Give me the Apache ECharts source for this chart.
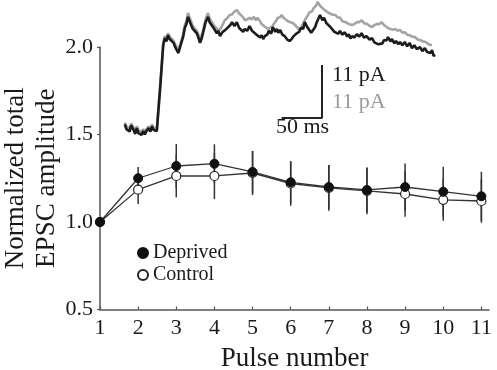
<!DOCTYPE html>
<html>
<head>
<meta charset="utf-8">
<script src="https://cdn.jsdelivr.net/npm/echarts@6/dist/echarts.min.js"></script>
<style>html,body{margin:0;padding:0;background:#fff}#c{width:497px;height:370px}</style>
</head>
<body>
<div id="c"></div>
<script>
// ---- main data ----
var pulses = [1, 2, 3, 4, 5, 6, 7, 8, 9, 10, 11];
var deprived = [1.0, 1.25, 1.32, 1.333, 1.286, 1.227, 1.20, 1.183, 1.20, 1.173, 1.147];
var deprivedErr = [0, 0.064, 0.126, 0.111, 0.12, 0.12, 0.126, 0.127, 0.135, 0.143, 0.14];
var control = [1.0, 1.185, 1.263, 1.263, 1.28, 1.22, 1.195, 1.178, 1.16, 1.127, 1.12];
var controlErr = [0, 0.082, 0.122, 0.132, 0.126, 0.127, 0.131, 0.133, 0.13, 0.12, 0.124];
var yTicks = [0.5, 1.0, 1.5, 2.0];

// ---- inset traces: [time (ms), current (pA)] ----
var traceDeprived = [[1,1.2],[3,0.2],[5,0.6],[7,-0.3],[9,1.0],[12,0],[14,-0.8],[16,0.4],[18,-0.6],[20,-0.4],[22,-1.0],[24,-0.2],[26,-0.9],[28,-0.2],[31,0.4],[33,-0.3],[35,0.8],[37,0.0],[39,0.2],[41,-0.2],[45,8.3],[49,17.6],[51,19.1],[53,18.4],[55,19.7],[57,18.9],[59,18.7],[62,18.1],[64,17.2],[66,17.0],[68,16.0],[69,16.6],[72,18.3],[74,19.4],[76,21.2],[78,22.0],[80,23.5],[82,22.6],[84,22.4],[86,21.0],[88,21.4],[91,20.1],[93,19.2],[95,18.1],[97,19.0],[99,20.3],[102,22.4],[104,22.0],[105,23.5],[107,22.4],[109,22.0],[112,21.2],[114,21.6],[116,20.1],[118,20.6],[120,19.5],[123,20.3],[125,20.1],[128,21.0],[130,21.2],[133,21.8],[135,22.4],[138,21.6],[141,22.4],[144,21.2],[146,21.2],[149,20.4],[151,21.0],[154,20.6],[157,21.6],[160,20.6],[162,20.8],[165,19.9],[167,20.1],[170,19.2],[172,19.7],[174,18.9],[176,19.5],[179,19.8],[181,20.6],[184,20.0],[186,21.4],[189,20.4],[191,21.0],[193,20.2],[195,20.8],[198,19.8],[201,19.5],[204,18.8],[207,18.5],[210,19.0],[212,19.5],[214,19.2],[216,20.1],[219,20.4],[221,21.2],[224,21.0],[226,22.4],[229,21.4],[231,21.2],[234,20.2],[236,20.1],[239,21.4],[241,22.4],[243,22.8],[245,23.9],[248,22.8],[250,23.3],[253,22.2],[255,22.4],[258,21.4],[260,21.2],[263,20.4],[265,20.8],[268,20.0],[270,20.6],[273,19.8],[276,20.3],[279,19.4],[281,19.9],[283,19.0],[285,19.5],[288,19.2],[291,19.9],[294,19.4],[297,20.1],[300,19.2],[303,19.5],[307,18.8],[310,19.1],[313,18.2],[315,18.5],[318,17.8],[320,18.1],[323,18.0],[325,18.7],[328,18.6],[330,19.3],[333,18.4],[335,18.9],[338,18.0],[340,18.5],[343,17.8],[345,18.3],[348,17.6],[351,18.3],[354,17.4],[357,18.1],[360,17.0],[363,17.6],[366,16.8],[370,17.2],[373,16.4],[376,17.0],[379,16.2],[381,16.6],[383,16.0],[385,16.6],[387,15.4],[389,15.6]];
var traceControl = [[1,1.6],[3,0.8],[5,1.0],[7,0.3],[9,1.4],[12,0.4],[14,-0.2],[16,0.8],[18,0.0],[20,0],[22,-0.4],[24,0.2],[26,-0.3],[28,0.2],[31,0.8],[33,0.2],[35,1.2],[37,0.5],[39,0.6],[41,0.2],[45,8.7],[49,18.0],[51,19.5],[53,18.9],[55,20.1],[57,19.4],[59,19.1],[62,18.5],[64,17.8],[66,17.4],[68,16.6],[69,17.0],[72,18.7],[74,19.9],[76,21.8],[78,22.6],[80,24.3],[82,23.4],[84,23.0],[86,21.6],[88,22.0],[91,20.6],[93,19.8],[95,18.6],[97,19.6],[99,20.8],[102,23.0],[104,23.4],[105,24.3],[107,23.2],[109,22.6],[112,21.8],[114,22.0],[116,21.0],[118,21.4],[120,20.8],[123,21.8],[126,22.8],[129,23.2],[132,23.9],[135,24.0],[138,24.6],[141,24.9],[144,24.2],[146,23.9],[149,23.4],[151,22.8],[154,23.0],[157,23.3],[160,23.0],[162,23.5],[165,22.8],[167,23.3],[170,22.6],[172,22.0],[175,21.6],[177,21.2],[180,21.0],[182,20.8],[185,21.4],[187,22.0],[190,22.6],[192,23.3],[195,23.4],[197,23.9],[200,23.2],[202,23.3],[205,22.6],[207,22.4],[211,22.2],[214,21.8],[217,21.2],[220,20.8],[223,21.8],[226,22.8],[229,23.6],[232,24.5],[235,24.6],[237,25.3],[240,25.8],[242,26.6],[245,25.8],[247,25.7],[250,25.0],[252,25.1],[255,24.4],[257,24.3],[260,24.0],[264,23.9],[267,23.4],[270,23.3],[273,22.6],[277,22.4],[281,22.0],[285,21.8],[288,22.0],[291,22.4],[294,22.4],[297,22.8],[300,22.2],[304,22.0],[307,21.6],[310,21.4],[313,21.8],[316,22.0],[319,22.0],[322,22.4],[325,21.8],[327,21.8],[330,21.2],[332,21.2],[336,20.8],[339,21.0],[342,20.6],[345,20.8],[348,20.2],[351,20.3],[354,19.8],[357,19.7],[360,19.4],[364,19.3],[367,18.8],[370,18.7],[374,18.4],[377,18.3],[381,17.8],[385,17.6]];
var scaleBar = [[197,2.5],[247.5,2.5],[247.5,13.5]];

var FONT = 'Liberation Serif';
var TXT = '#1a1a1a';

function errData(vals, errs) {
  return pulses.map(function (p, i) { return [p, vals[i] - errs[i], vals[i] + errs[i]]; });
}
function errRender(params, api) {
  var x = api.value(0);
  var lo = api.coord([x, api.value(1)]);
  var hi = api.coord([x, api.value(2)]);
  return { type: 'line', shape: { x1: lo[0], y1: lo[1], x2: hi[0], y2: hi[1] },
           style: { stroke: '#333', lineWidth: 1.5 } };
}

var chart = echarts.init(document.getElementById('c'), null, { renderer: 'canvas' });
chart.setOption({
  animation: false,
  backgroundColor: '#fff',
  textStyle: { fontFamily: FONT },
  grid: [
    { left: 100, right: 8, top: 47, bottom: 60.5, containLabel: false, outerBoundsMode: 'none' },
    { left: 124, width: 320, top: 0, height: 149.4, containLabel: false, outerBoundsMode: 'none' }
  ],
  legend: {
    data: ['Deprived', 'Control'],
    orient: 'vertical', left: 132, top: 238, itemWidth: 10, itemHeight: 10, itemGap: 2,
    icon: 'circle',
    textStyle: { fontFamily: FONT, fontSize: 20, color: TXT }
  },
  xAxis: [{
    type: 'value', min: 1, max: 11.2, interval: 1, gridIndex: 0,
    name: 'Pulse number', nameLocation: 'middle', nameGap: 36,
    nameTextStyle: { fontFamily: FONT, fontSize: 27, color: TXT },
    axisLine: { lineStyle: { color: '#555', width: 1.5 } },
    axisTick: { inside: true, length: 3, lineStyle: { color: '#555', width: 1.2 }, customValues: pulses },
    axisLabel: { fontFamily: FONT, fontSize: 22, color: TXT, margin: 8, customValues: pulses,
                 formatter: function (v) { return Number.isInteger(v) ? String(v) : ''; } },
    splitLine: { show: false }
  }, {
    type: 'value', min: 0, max: 400, gridIndex: 1, show: false
  }],
  yAxis: [{
    type: 'value', min: 0.5, max: 2.0, interval: 0.5, gridIndex: 0,
    name: 'Normalized total\nEPSC amplitude', nameLocation: 'middle', nameGap: 38, nameRotate: 90,
    nameMoveOverlap: false,
    nameTextStyle: { fontFamily: FONT, fontSize: 27, color: TXT, lineHeight: 31 },
    axisLine: { show: true, lineStyle: { color: '#555', width: 1.5 } },
    axisTick: { show: true, inside: false, length: 3, lineStyle: { color: '#555', width: 1.2 } },
    axisLabel: { fontFamily: FONT, fontSize: 22, color: TXT, margin: 7,
                 formatter: function (v) { return v.toFixed(1); } },
    splitLine: { show: false }
  }, {
    type: 'value', min: -4, max: 27, gridIndex: 1, show: false
  }],
  series: [
    { type: 'line', name: 'traceC', xAxisIndex: 1, yAxisIndex: 1, data: traceControl, showSymbol: false,
      clip: false, lineStyle: { color: '#a4a4a4', width: 2.6 }, z: 1, silent: true },
    { type: 'line', name: 'traceD', xAxisIndex: 1, yAxisIndex: 1, data: traceDeprived, showSymbol: false,
      clip: false, lineStyle: { color: '#1c1c1c', width: 2.6 }, z: 2, silent: true },
    { type: 'line', name: 'scale', xAxisIndex: 1, yAxisIndex: 1, data: scaleBar, showSymbol: false,
      clip: false, lineStyle: { color: '#222', width: 2 }, z: 2, silent: true },
    { type: 'custom', name: 'errD', renderItem: errRender, data: errData(deprived, deprivedErr), z: 3 },
    { type: 'custom', name: 'errC', renderItem: errRender, data: errData(control, controlErr), z: 3 },
    { type: 'line', name: 'Control', data: pulses.map(function (p, i) { return [p, control[i]]; }),
      symbol: 'circle', symbolSize: 9, lineStyle: { color: '#333', width: 1.3 },
      itemStyle: { color: '#fff', borderColor: '#222', borderWidth: 1.2 }, z: 4 },
    { type: 'line', name: 'Deprived', data: pulses.map(function (p, i) { return [p, deprived[i]]; }),
      symbol: 'circle', symbolSize: 9, lineStyle: { color: '#333', width: 1.3 },
      itemStyle: { color: '#111', borderColor: '#111', borderWidth: 1 }, z: 5 }
  ],
  graphic: [
    { type: 'text', left: 332, top: 64, style: { text: '11 pA', fontFamily: FONT, fontSize: 22, fill: TXT } },
    { type: 'text', left: 332, top: 91, style: { text: '11 pA', fontFamily: FONT, fontSize: 22, fill: '#9a9a9a' } },
    { type: 'text', left: 276, top: 116, style: { text: '50 ms', fontFamily: FONT, fontSize: 22, fill: TXT } }
  ]
});
</script>
</body>
</html>
